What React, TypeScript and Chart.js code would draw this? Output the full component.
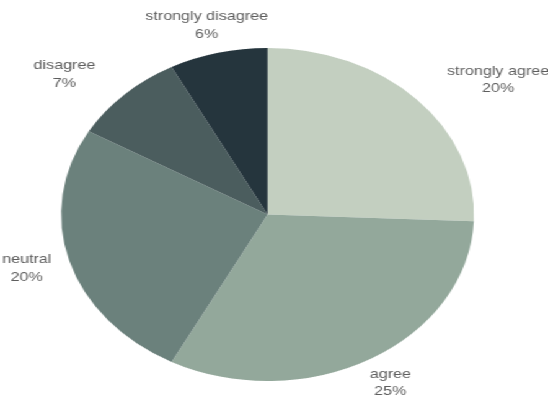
import React, { useEffect, useRef } from "react";
import { Chart, registerables } from "chart.js";

Chart.register(...registerables);

const categories = ["strongly agree", "agree", "neutral", "disagree", "strongly disagree"];
const values = [20, 25, 20, 7, 6];
const valueLabels = ["20%", "25%", "20%", "7%", "6%"];
const colors = ["#c3cfc0", "#93a89b", "#6b817c", "#4b5d5e", "#25353d"];

const INNER_W = 442;
const H = 396;
const SX = 548 / INNER_W;

const outerLabels = {
  id: "outerLabels",
  afterDatasetsDraw(chart: any) {
    const ctx = chart.ctx;
    const meta = chart.getDatasetMeta(0);
    ctx.save();
    ctx.font = "13px 'Liberation Sans', Arial, sans-serif";
    ctx.fillStyle = "#5e5e5e";
    ctx.textAlign = "center";
    ctx.textBaseline = "middle";
    const lh = 17.5;
    const clamp = (v: number) => Math.max(-1, Math.min(1, v));
    meta.data.forEach((arc: any, i: number) => {
      const p = arc.getProps(["x", "y", "startAngle", "endAngle", "outerRadius"], true);
      const mid = (p.startAngle + p.endAngle) / 2;
      const c = Math.cos(mid);
      const s = Math.sin(mid);
      const gap = 15;
      const ax = p.x + (p.outerRadius + gap) * c;
      const ay = p.y + (p.outerRadius + gap) * s;
      const w1 = ctx.measureText(categories[i]).width;
      const w2 = ctx.measureText(valueLabels[i]).width;
      const hw = Math.max(w1, w2) / 2;
      const diag = Math.max(0, -s) * Math.max(0, Math.min(1, (Math.abs(c) - 0.3) / 0.4));
      const bx = ax + hw * clamp(2 * c * Math.abs(c)) + Math.sign(c) * 20 * diag;
      const by = ay + 13 * s;
      ctx.fillText(categories[i], bx, by - lh / 2);
      ctx.fillText(valueLabels[i], bx, by + lh / 2);
    });
    ctx.restore();
  },
};

export default function App() {
  const ref = useRef<HTMLCanvasElement | null>(null);
  useEffect(() => {
    if (!ref.current) return;
    const chart = new Chart(ref.current, {
      type: "pie",
      data: {
        labels: categories,
        datasets: [
          {
            data: values,
            backgroundColor: colors,
            borderWidth: 0,
            hoverOffset: 0,
          },
        ],
      },
      options: {
        responsive: false,
        animation: false,
        events: [],
        layout: { padding: { top: 48, bottom: 15, left: 0, right: 10.4 } },
        plugins: {
          legend: { display: false },
          tooltip: { enabled: false },
        },
      },
      plugins: [outerLabels],
    });
    return () => chart.destroy();
  }, []);
  return (
    <div
      style={{
        position: "fixed",
        left: 0,
        top: 0,
        width: INNER_W,
        height: H,
        background: "#ffffff",
        transform: `scaleX(${SX})`,
        transformOrigin: "0 0",
      }}
    >
      <canvas ref={ref} width={INNER_W} height={H} />
    </div>
  );
}
